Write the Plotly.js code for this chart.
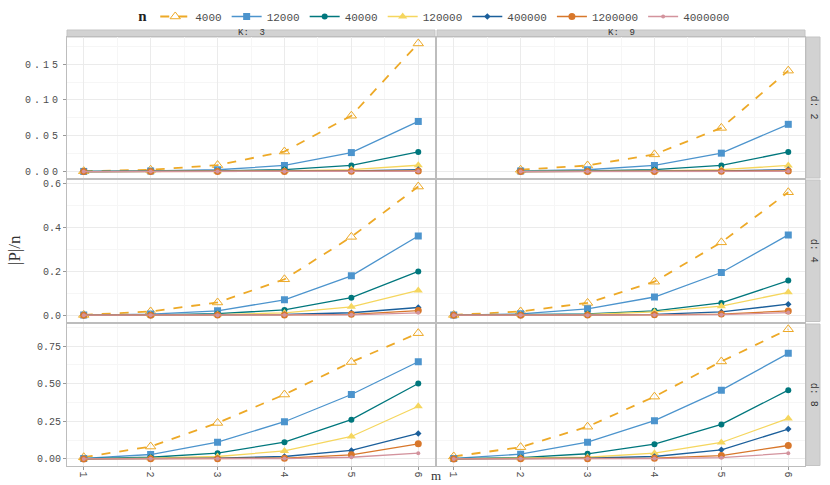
<!DOCTYPE html>
<html>
<head>
<meta charset="utf-8">
<script src="https://cdn.plot.ly/plotly-3.0.1.min.js"></script>
<style>
  body { margin: 0; background: #fff; }
  #chart { width: 830px; height: 485px; }
  .xtick text, .ytick text { letter-spacing: 3px; }
</style>
</head>
<body>
<div id="chart"></div>
<script>
// m on the x axis, n is the series
mVals = [1, 2, 3, 4, 5, 6];
mValsK9d2 = [2, 3, 4, 5, 6];
nLabels = ['4000', '12000', '40000', '120000', '400000', '1200000', '4000000'];

// |P|/n, one row per n (same order as nLabels)
k3d2 = [
  [0.0005, 0.0025, 0.009, 0.028, 0.078, 0.179],
  [0.0002, 0.0008, 0.0025, 0.0085, 0.0265, 0.070],
  [0.0001, 0.0003, 0.0008, 0.0028, 0.0085, 0.0275],
  [0, 0.0001, 0.0003, 0.0009, 0.0028, 0.0088],
  [0, 0, 0.0001, 0.0003, 0.0009, 0.0028],
  [0, 0, 0, 0.0001, 0.0003, 0.0009],
  [0, 0, 0, 0, 0.0001, 0.0003]
];
k9d2 = [
  [0.0025, 0.0085, 0.024, 0.061, 0.141],
  [0.0008, 0.0025, 0.0085, 0.0257, 0.066],
  [0.0003, 0.0008, 0.0026, 0.0085, 0.0275],
  [0.0001, 0.0003, 0.0009, 0.0027, 0.0085],
  [0, 0.0001, 0.0003, 0.0009, 0.0028],
  [0, 0, 0.0001, 0.0003, 0.0009],
  [0, 0, 0, 0.0001, 0.0003]
];
k3d4 = [
  [0.001, 0.017, 0.058, 0.164, 0.358, 0.588],
  [0.0003, 0.005, 0.020, 0.070, 0.180, 0.362],
  [0.0001, 0.0015, 0.007, 0.024, 0.080, 0.200],
  [0, 0.0005, 0.0025, 0.010, 0.038, 0.113],
  [0, 0.0001, 0.0008, 0.003, 0.011, 0.035],
  [0, 0, 0.0003, 0.001, 0.004, 0.021],
  [0, 0, 0.0001, 0.0003, 0.0015, 0.0105]
];
k9d4 = [
  [0.001, 0.017, 0.056, 0.153, 0.333, 0.562],
  [0.0003, 0.006, 0.029, 0.083, 0.195, 0.367],
  [0.0001, 0.0015, 0.006, 0.020, 0.056, 0.158],
  [0, 0.0005, 0.003, 0.015, 0.041, 0.1045],
  [0, 0.0001, 0.001, 0.004, 0.015, 0.050],
  [0, 0, 0.0003, 0.0015, 0.005, 0.0195],
  [0, 0, 0.0001, 0.0005, 0.002, 0.012]
];
k3d8 = [
  [0.011, 0.082, 0.239, 0.428, 0.644, 0.836],
  [0.003, 0.029, 0.111, 0.247, 0.428, 0.646],
  [0.001, 0.011, 0.038, 0.111, 0.261, 0.501],
  [0.0003, 0.005, 0.016, 0.053, 0.149, 0.350],
  [0.0001, 0.0015, 0.005, 0.016, 0.056, 0.169],
  [0, 0.0005, 0.0015, 0.005, 0.027, 0.100],
  [0, 0.0001, 0.0005, 0.002, 0.011, 0.038]
];
k9d8 = [
  [0.016, 0.078, 0.214, 0.414, 0.648, 0.862],
  [0.003, 0.031, 0.111, 0.254, 0.457, 0.702],
  [0.001, 0.009, 0.034, 0.098, 0.229, 0.457],
  [0.0003, 0.004, 0.011, 0.038, 0.109, 0.269],
  [0.0001, 0.0015, 0.005, 0.016, 0.060, 0.198],
  [0, 0.0005, 0.0015, 0.005, 0.022, 0.089],
  [0, 0.0001, 0.0005, 0.002, 0.008, 0.038]
];

kLabels = ['K:  3', 'K:  9'];
dLabels = ['d: 2', 'd: 4', 'd: 8'];

colors = ['#EDA927', '#4C94CD', '#00777D', '#F5D65E', '#1B5F9B', '#D8772B', '#D3939D'];
symbols = ['triangle-up-open', 'square', 'circle', 'triangle-up', 'diamond', 'circle', 'circle'];
sizes = [9, 7, 6, 8, 5, 7, 4];

panels = [
  {m: mVals, y: k3d2}, {m: mValsK9d2, y: k9d2},
  {m: mVals, y: k3d4}, {m: mVals, y: k9d4},
  {m: mVals, y: k3d8}, {m: mVals, y: k9d8}
];

// pixel boxes from the reference, converted to paper fractions
W = 830; H = 485;
colPx = [[67, 435], [437, 805]];
rowPx = [[37, 178], [180, 321.5], [324, 465.5]];
yRanges = [[-0.009, 0.188], [-0.029, 0.618], [-0.044, 0.897]];
yDticks = [0.05, 0.2, 0.25];
yFormats = ['.2f', '.1f', '.2f'];

tickFont = {family: 'Liberation Mono, monospace', size: 10, color: '#4d4d4d'};

traces = [];
layout = {
  width: W, height: H,
  margin: {l: 0, r: 0, t: 0, b: 0},
  paper_bgcolor: '#fff',
  plot_bgcolor: '#fff',
  showlegend: true,
  legend: {
    orientation: 'h', x: 0.525, xanchor: 'center', y: 0.965, yanchor: 'middle',
    bgcolor: 'rgba(0,0,0,0)',
    font: {family: 'Liberation Mono, monospace', size: 11, color: '#4d4d4d'},
    title: {text: '<b>n</b>', side: 'left', font: {family: 'Liberation Serif, serif', size: 15, color: '#222'}},
    itemwidth: 30
  },
  shapes: [],
  annotations: []
};

panels.forEach(function (p, i) {
  var r = Math.floor(i / 2), c = i % 2;
  var sfx = i === 0 ? '' : String(i + 1);
  p.y.forEach(function (vals, s) {
    traces.push({
      x: p.m, y: vals,
      xaxis: 'x' + sfx, yaxis: 'y' + sfx,
      type: 'scatter', mode: 'lines+markers',
      name: nLabels[s], legendgroup: nLabels[s], showlegend: i === 0,
      line: {color: colors[s], width: s === 0 ? 1.8 : 1.3, dash: s === 0 ? 'dash' : 'solid'},
      marker: {color: colors[s], symbol: symbols[s], size: sizes[s], line: {color: colors[s], width: s === 0 ? 1 : 0}}
    });
  });

  layout['xaxis' + sfx] = {
    domain: [colPx[c][0] / W, colPx[c][1] / W],
    anchor: 'y' + sfx,
    range: [0.75, 6.25],
    tickmode: 'linear', tick0: 1, dtick: 1,
    showticklabels: r === 2,
    tickangle: 90,
    ticks: r === 2 ? 'outside' : '', ticklen: 3, tickcolor: '#999',
    tickfont: tickFont,
    showgrid: true, gridcolor: '#ebebeb', gridwidth: 1,
    minor: {dtick: 0.5, showgrid: true, gridcolor: '#f6f6f6'},
    zeroline: false,
    showline: true, mirror: true, linecolor: '#bdbdbd', linewidth: 1
  };
  layout['yaxis' + sfx] = {
    domain: [1 - rowPx[r][1] / H, 1 - rowPx[r][0] / H],
    anchor: 'x' + sfx,
    range: yRanges[r],
    tickmode: 'linear', tick0: 0, dtick: yDticks[r],
    tickformat: yFormats[r],
    showticklabels: c === 0,
    ticks: c === 0 ? 'outside' : '', ticklen: 3, tickcolor: '#999',
    tickfont: tickFont,
    showgrid: true, gridcolor: '#ebebeb', gridwidth: 1,
    minor: {dtick: yDticks[r] / 2, showgrid: true, gridcolor: '#f6f6f6'},
    zeroline: false,
    showline: true, mirror: true, linecolor: '#bdbdbd', linewidth: 1
  };
});

// strips: top (K) and right (d)
colPx.forEach(function (cp, c) {
  layout.shapes.push({
    type: 'rect', xref: 'paper', yref: 'paper', layer: 'below',
    x0: cp[0] / W, x1: cp[1] / W, y0: 1 - 37 / H, y1: 1 - 30 / H,
    fillcolor: '#d2d2d2', line: {color: '#c4c4c4', width: 1}
  });
  layout.annotations.push({
    xref: 'paper', yref: 'paper', x: (cp[0] + cp[1]) / 2 / W, y: 1 - 33.5 / H,
    text: kLabels[c], showarrow: false, xanchor: 'center', yanchor: 'middle',
    font: {family: 'Liberation Mono, monospace', size: 9, color: '#333'}
  });
});
rowPx.forEach(function (rp, r) {
  layout.shapes.push({
    type: 'rect', xref: 'paper', yref: 'paper', layer: 'below',
    x0: 806 / W, x1: 820 / W, y0: 1 - rp[1] / H, y1: 1 - rp[0] / H,
    fillcolor: '#d2d2d2', line: {color: '#c4c4c4', width: 1}
  });
  layout.annotations.push({
    xref: 'paper', yref: 'paper', x: 813 / W, y: 1 - (rp[0] + rp[1]) / 2 / H,
    text: dLabels[r], showarrow: false, textangle: 90, xanchor: 'center', yanchor: 'middle',
    font: {family: 'Liberation Mono, monospace', size: 10, color: '#333'}
  });
});

// axis titles
layout.annotations.push({
  xref: 'paper', yref: 'paper', x: 15 / W, y: 1 - 250 / H,
  text: '|P|/n', showarrow: false, textangle: -90, xanchor: 'center', yanchor: 'middle',
  font: {family: 'Liberation Serif, serif', size: 17, color: '#333'}
});
layout.annotations.push({
  xref: 'paper', yref: 'paper', x: 436 / W, y: 1 - 475 / H,
  text: 'm', showarrow: false, xanchor: 'center', yanchor: 'middle',
  font: {family: 'Liberation Serif, serif', size: 13, color: '#333'}
});

Plotly.newPlot(document.getElementById('chart'), traces, layout, {displayModeBar: false, staticPlot: true});
</script>
</body>
</html>
